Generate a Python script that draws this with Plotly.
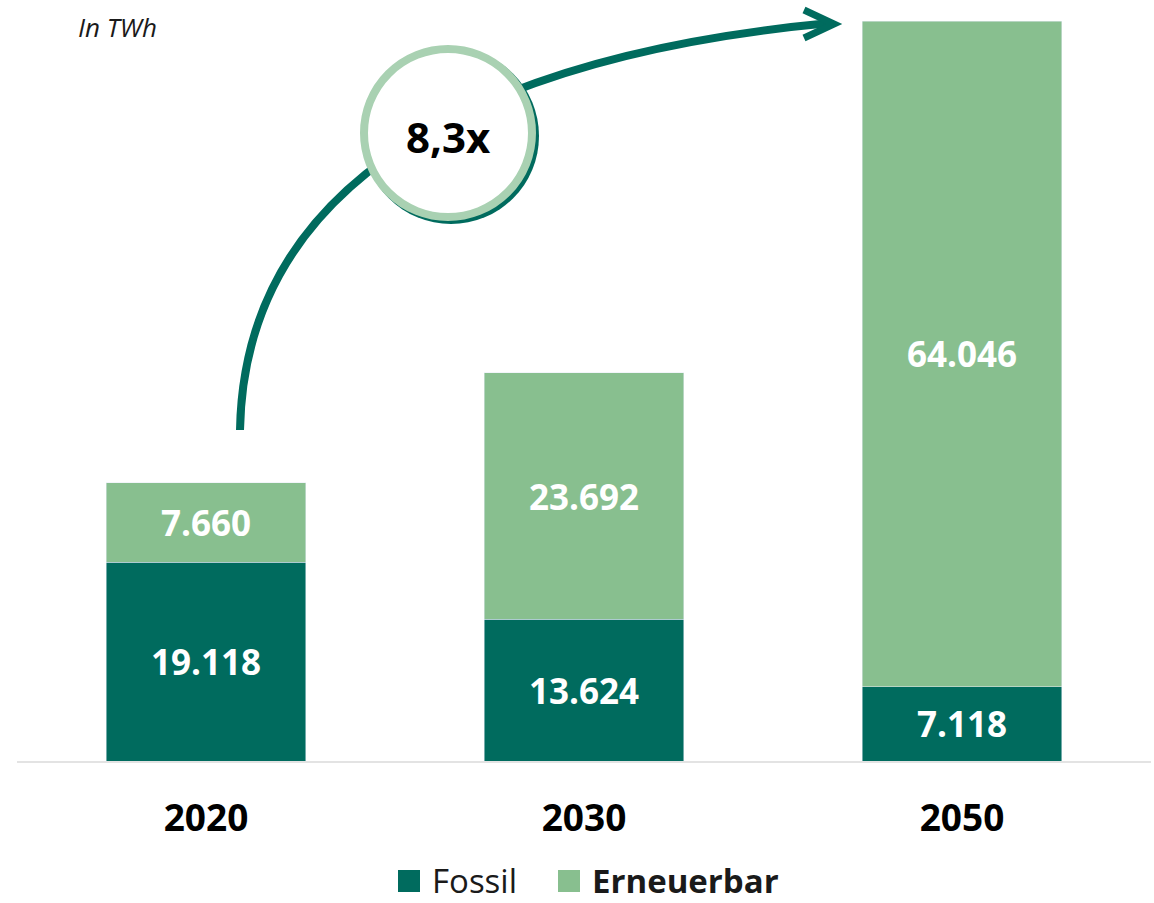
import plotly.graph_objects as go

years = ["2020", "2030", "2050"]
fossil = [19118, 13624, 7118]
erneuerbar = [7660, 23692, 64046]
series_names = ["Fossil", "Erneuerbar"]
unit_label = "In TWh"
growth_label = "8,3x"

DARK = "#006B5E"
LIGHT = "#88BF8F"
RING = "#A9D1B2"
FONT = "Open Sans"

W, H = 1154, 903
ML, MR, MT, MB = 17, 3, 21, 142
PW, PH = W - ML - MR, H - MT - MB


def px(x):
    return (x - ML) / PW


def py(y):
    return (H - MB - y) / PH


def fmt(v):
    return f"{v:,}".replace(",", ".")


fig = go.Figure()
fig.add_trace(go.Bar(
    x=years, y=fossil, name=series_names[0], marker_color=DARK,
    text=[fmt(v) for v in fossil], textposition="inside",
    insidetextanchor="middle", textangle=0,
    textfont=dict(family=FONT, size=35, color="white", weight="bold"),
    showlegend=False,
))
fig.add_trace(go.Bar(
    x=years, y=erneuerbar, name=series_names[1], marker_color=LIGHT,
    text=[fmt(v) for v in erneuerbar], textposition="inside",
    insidetextanchor="middle", textangle=0,
    textfont=dict(family=FONT, size=35, color="white", weight="bold"),
    showlegend=False,
))

totals = [a + b for a, b in zip(fossil, erneuerbar)]

shapes = []
# curved arrow
shapes.append(dict(
    type="path", xref="paper", yref="paper",
    path=(f"M{px(240)},{py(430)} C{px(245)},{py(150)} "
          f"{px(540)},{py(50)} {px(830)},{py(23)}"),
    line=dict(color=DARK, width=8),
))
shapes.append(dict(
    type="path", xref="paper", yref="paper",
    path=f"M{px(804)},{py(10)} L{px(834)},{py(24)} L{px(804)},{py(38)}",
    line=dict(color=DARK, width=7),
))
# circle shadow + circle
cx, cy, r = 448, 133, 88
shapes.append(dict(
    type="circle", xref="paper", yref="paper",
    x0=px(cx - r + 3), x1=px(cx + r + 3), y0=py(cy - r + 3), y1=py(cy + r + 3),
    fillcolor=DARK, line=dict(width=0),
))
shapes.append(dict(
    type="circle", xref="paper", yref="paper",
    x0=px(cx - r + 4), x1=px(cx + r - 4), y0=py(cy - r + 4), y1=py(cy + r - 4),
    fillcolor="white", line=dict(color=RING, width=8),
))
# legend squares
LEG_Y = 881
shapes.append(dict(type="rect", xref="paper", yref="paper",
                   x0=px(398), x1=px(420), y0=py(LEG_Y - 11), y1=py(LEG_Y + 11),
                   fillcolor=DARK, line=dict(width=0)))
shapes.append(dict(type="rect", xref="paper", yref="paper",
                   x0=px(558), x1=px(580), y0=py(LEG_Y - 11), y1=py(LEG_Y + 11),
                   fillcolor=LIGHT, line=dict(width=0)))

annotations = [
    dict(text=f"<b>{growth_label}</b>", x=px(cx), y=py(137), xref="paper", yref="paper",
         xanchor="center", yanchor="middle",
         showarrow=False, font=dict(family=FONT, size=42, color="black")),
    dict(text=f"<i>{unit_label}</i>", x=px(76), y=py(27), xref="paper", yref="paper",
         xanchor="left", yanchor="middle", showarrow=False,
         font=dict(family=FONT, size=26, color="#1a1a1a")),
    dict(text=series_names[0], x=px(430), y=py(LEG_Y - 1), xref="paper", yref="paper",
         xanchor="left", yanchor="middle", showarrow=False,
         font=dict(family=FONT, size=33, color="#1a1a1a")),
    dict(text=f"<b>{series_names[1]}</b>", x=px(590), y=py(LEG_Y - 1), xref="paper", yref="paper",
         xanchor="left", yanchor="middle", showarrow=False,
         font=dict(family=FONT, size=33, color="#1a1a1a")),
]

fig.update_layout(
    width=W, height=H,
    margin=dict(l=ML, r=MR, t=MT, b=MB, pad=0),
    barmode="stack", bargap=0.471,
    plot_bgcolor="white", paper_bgcolor="white",
    showlegend=False,
    shapes=shapes, annotations=annotations,
    uniformtext=dict(minsize=8),
    xaxis=dict(
        tickmode="array", tickvals=years, ticktext=[f"<b>{y}</b>" for y in years],
        tickfont=dict(family=FONT, size=37, color="black"),
        showline=True, linecolor="#e3e3e3", linewidth=2,
        showgrid=False, ticks="", ticklabelstandoff=24,
    ),
    yaxis=dict(
        range=[0, max(totals)], visible=False, showgrid=False, zeroline=False,
    ),
)

fig.write_html("out.html")
